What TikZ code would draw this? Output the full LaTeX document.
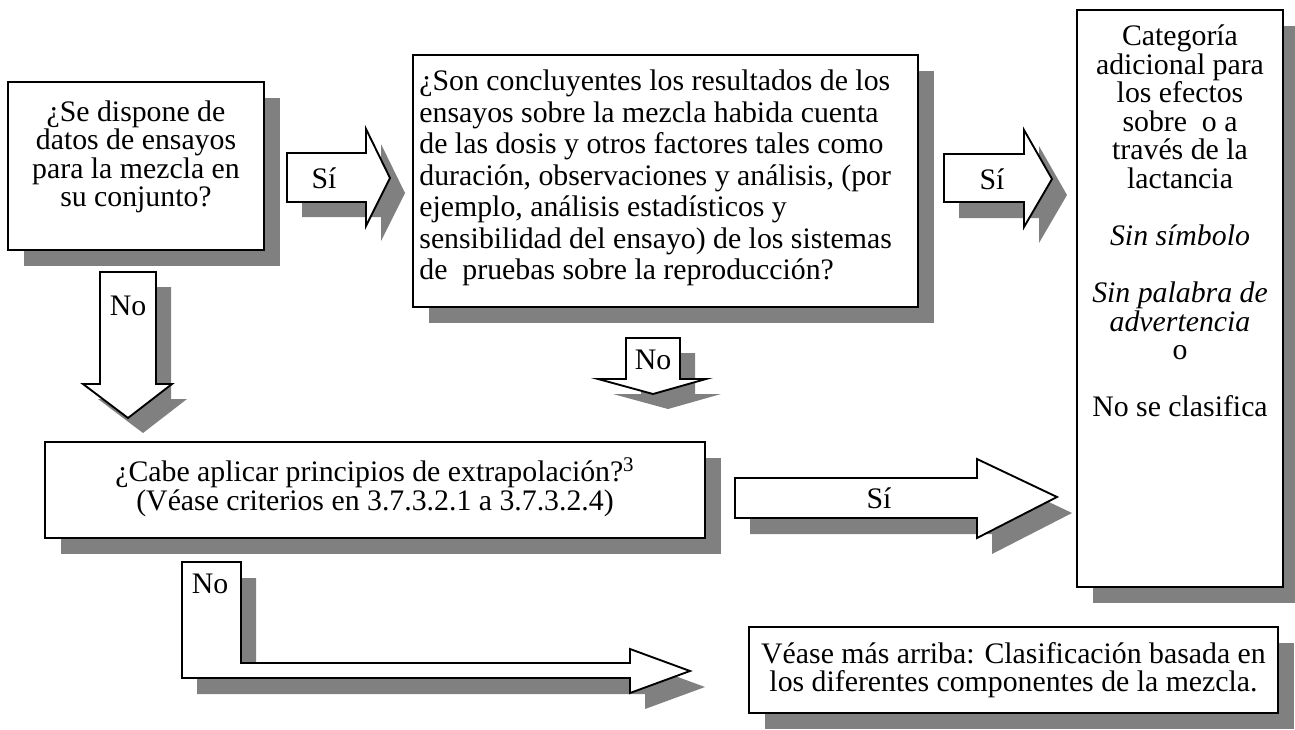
\documentclass[tikz,border=0pt]{standalone}
\usepackage{fontspec}
\setmainfont{Liberation Serif}
\usetikzlibrary{shadows}
\definecolor{shgray}{HTML}{808080}
\def\PX{0.48pt}
\newcommand\blockarr[2]{\fill[shgray,shift={(#1)}] #2; \draw[arrbox] #2;}
\newcommand\tightfont{\fontsize{14.3}{13.7}\selectfont\lineskiplimit=-20pt\relax}
\newcommand\widefont{\fontsize{14.3}{15.1}\selectfont\lineskiplimit=-20pt\relax}
\begin{document}
\begin{tikzpicture}[x=0.48pt,y=-0.48pt,
  box/.style={draw=black, line width=0.9pt, fill=white, inner sep=0pt,
    drop shadow={shadow xshift=16*\PX, shadow yshift=-16*\PX, fill=shgray, opacity=1}},
  arrbox/.style={draw=black, line width=0.9pt, fill=white, line join=miter},
  txt/.style={inner sep=0pt, align=center, font=\tightfont}]
\useasboundingbox (0,0) rectangle (1295,729);

% boxes
\node[box, minimum width=256*\PX, minimum height=168*\PX] (b1) at (136,166) {};
\node[box, minimum width=505*\PX, minimum height=252*\PX] (b2) at (665.5,181) {};
\node[box, minimum width=206*\PX, minimum height=577*\PX] (b3) at (1180,298.5) {};
\node[box, minimum width=660*\PX, minimum height=96*\PX] (b5) at (375,490) {};
\node[box, minimum width=529*\PX, minimum height=86*\PX] (b4) at (1013.5,670) {};

% block arrows
\blockarr{15,15}{(287,153)--(366,153)--(366,129)--(390,178)--(366,226)--(366,202)--(287,202)--cycle}
\blockarr{15,16}{(944,154)--(1024,154)--(1024,130)--(1052,179)--(1024,227)--(1024,202)--(944,202)--cycle}
\blockarr{15,15}{(100,272)--(156,272)--(156,384)--(172,384)--(128,418)--(83,384)--(100,384)--cycle}
\blockarr{15,15}{(626,338)--(680,338)--(680,379)--(706,379)--(653,394)--(598,379)--(626,379)--cycle}
\blockarr{15,16}{(735,478)--(977,478)--(977,459)--(1057,497)--(977,538)--(977,518)--(735,518)--cycle}
\blockarr{15,16}{(182,562)--(241,562)--(241,663)--(630,663)--(630,649)--(690,671)--(630,693)--(630,678)--(182,678)--cycle}

% texts
\node[txt] (t1) at (136,157) {¿Se dispone de\\datos de ensayos\\para la mezcla en\\su conjunto?};
\node[txt, align=left, anchor=west, font=\widefont] (t2) at (419,178)
  {¿Son concluyentes los resultados de los\\ensayos sobre la mezcla habida cuenta\\de las dosis y otros factores tales como\\duración, observaciones y análisis, (por\\ejemplo, análisis estadísticos y\\sensibilidad del ensayo) de los sistemas\\de~~pruebas sobre la reproducción?};
\node[txt] (t3) at (1180,221) {Categoría\\adicional para\\los efectos\\sobre~~o a\\través de la\\lactancia\\[13.7pt]\textit{Sin símbolo}\\[13.7pt]\textit{Sin palabra de}\\\textit{advertencia}\\o\\[13.7pt]No se clasifica};
\node[txt] (t5) at (375,487) {¿Cabe aplicar principios de extrapolación?\textsuperscript{3}\\(Véase criterios en 3.7.3.2.1 a 3.7.3.2.4)};
\node[txt] (t4) at (1013.5,670) {Véase más arriba: Clasificación basada en\\los diferentes componentes de la mezcla.};

% arrow labels
\node[txt] (l1) at (324,178) {Sí};
\node[txt] (l2) at (992,179) {Sí};
\node[txt] (l3) at (128,306) {No};
\node[txt] (l4) at (653,360) {No};
\node[txt] (l5) at (879,498) {Sí};
\node[txt] (l6) at (210,584) {No};
\end{tikzpicture}
\end{document}
